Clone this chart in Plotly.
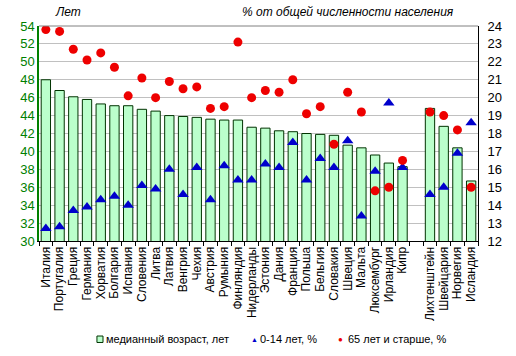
import plotly.graph_objects as go

countries = ["Италия", "Португалия", "Греция", "Германия", "Хорватия", "Болгария", "Испания",
             "Словения", "Литва", "Латвия", "Венгрия", "Чехия", "Австрия", "Румыния", "Финляндия",
             "Нидерланды", "Эстония", "Дания", "Франция", "Польша", "Бельгия", "Словакия", "Швеция",
             "Мальта", "Люксембург", "Ирландия", "Кипр", " ",
             "Лихтенштейн", "Швейцария", "Норвегия", "Исландия"]

median_age = [48.0, 46.8, 46.1, 45.8, 45.3, 45.1, 45.1, 44.7, 44.5, 44.0, 43.9, 43.8, 43.6, 43.5,
              43.5, 42.7, 42.6, 42.3, 42.2, 42.0, 41.9, 41.8, 40.7, 40.4, 39.6, 38.7, 38.3, None,
              44.8, 42.8, 40.4, 36.7]

age_0_14 = [12.7, 12.8, 13.7, 13.9, 14.3, 14.5, 14.0, 15.1, 14.9, 16.0, 14.6, 16.1, 14.3, 16.2,
            15.4, 15.4, 16.3, 16.1, 17.5, 15.4, 16.6, 16.1, 17.6, 13.4, 15.9, 19.7, 16.1, None,
            14.6, 15.0, 16.9, 18.6]

age_65_plus = [23.8, 23.7, 22.7, 22.1, 22.5, 21.7, 20.1, 21.1, 20.0, 20.9, 20.5, 20.6, 19.4, 19.5,
               23.1, 20.0, 20.4, 20.3, 21.0, 19.1, 19.5, 17.4, 20.3, 19.2, 14.8, 15.0, 16.5, None,
               19.2, 19.0, 18.2, 15.0]

left_ticks = list(range(30, 55, 2))
right_ticks = list(range(12, 25, 1))

series_names = ["медианный возраст, лет", "0-14 лет, %", "65 лет и старше, %"]

FONT = "Liberation Sans, Arial, sans-serif"
BAR_FILL = "#BBFFCC"
BAR_EDGE = "#003300"
TRI = "#0000CC"
DOT = "#EE0000"

fig = go.Figure()
fig.add_trace(go.Bar(
    x=countries, y=median_age, name=series_names[0],
    marker=dict(color=BAR_FILL, line=dict(color=BAR_EDGE, width=1)),
    yaxis="y",
))
fig.add_trace(go.Scatter(
    x=countries, y=age_0_14, name=series_names[1], mode="markers",
    marker=dict(symbol="triangle-up", size=10, color=TRI),
    yaxis="y2",
))
fig.add_trace(go.Scatter(
    x=countries, y=age_65_plus, name=series_names[2], mode="markers",
    marker=dict(symbol="circle", size=9, color=DOT),
    yaxis="y2",
))

# compact legend drawn below the chart (paper coordinates)
LEG_Y = -0.457
legend_annotations = [
    dict(text=series_names[0], x=0.148, y=LEG_Y, xanchor="left"),
    dict(text="<span style='color:%s'>▲</span>" % TRI, x=0.49, y=LEG_Y, xanchor="center",
         font=dict(size=7)),
    dict(text=series_names[1], x=0.499, y=LEG_Y, xanchor="left"),
    dict(text="<span style='color:%s'>●</span>" % DOT, x=0.686, y=LEG_Y, xanchor="center",
         font=dict(size=8)),
    dict(text=series_names[2], x=0.699, y=LEG_Y, xanchor="left"),
]
for a in legend_annotations:
    a.update(xref="paper", yref="paper", yanchor="middle", showarrow=False)
    a.setdefault("font", dict(size=11))

fig.update_layout(
    width=516, height=356,
    margin=dict(l=39, r=38, t=26, b=115),
    paper_bgcolor="white", plot_bgcolor="white",
    font=dict(family=FONT, size=12, color="black"),
    bargap=0.32,
    showlegend=False,
    xaxis=dict(
        type="category", tickangle=-90, tickfont=dict(size=12),
        tickmode="array", tickvals=countries, ticktext=countries,
        showline=True, linecolor="black", linewidth=1,
        ticks="outside", ticklen=4, tickson="boundaries", tickcolor="black",
        showgrid=False, mirror=False, range=[-0.5, len(countries) - 0.5],
        automargin=False,
    ),
    yaxis=dict(
        range=[30, 54], tickvals=left_ticks, ticks="", showline=True,
        linecolor="#008000", linewidth=1.5,
        tickfont=dict(color="#008000", size=13),
        showgrid=True, gridcolor="#C0C0C0", gridwidth=1, zeroline=False,
        automargin=False,
    ),
    yaxis2=dict(
        range=[12, 24], tickvals=right_ticks, overlaying="y", side="right",
        showline=True, linecolor="black", linewidth=1, ticks="",
        ticklabelstandoff=6,
        tickfont=dict(color="black", size=13), showgrid=False, zeroline=False,
        automargin=False,
    ),
    shapes=[
        dict(type="line", xref="paper", yref="paper", x0=0, x1=1, y0=1, y1=1,
             line=dict(color="#808080", width=1)),
        dict(type="rect", xref="paper", yref="paper", x0=0.132, x1=0.1458,
             y0=LEG_Y - 0.015, y1=LEG_Y + 0.015,
             fillcolor=BAR_FILL, line=dict(color=BAR_EDGE, width=1)),
    ],
    annotations=[
        dict(text="<i>Лет</i>", xref="paper", yref="paper", x=0.067, y=1.0, yshift=14,
             xanchor="center", yanchor="middle", showarrow=False, font=dict(size=12)),
        dict(text="<i>% от общей численности населения</i>", xref="paper", yref="paper",
             x=0.95, y=1.0, yshift=14, xanchor="right", yanchor="middle", showarrow=False,
             font=dict(size=12)),
    ] + legend_annotations,
)

fig.write_html("out.html", config={"displayModeBar": False},
               post_script="document.body.style.margin='0';document.body.style.padding='0';")
